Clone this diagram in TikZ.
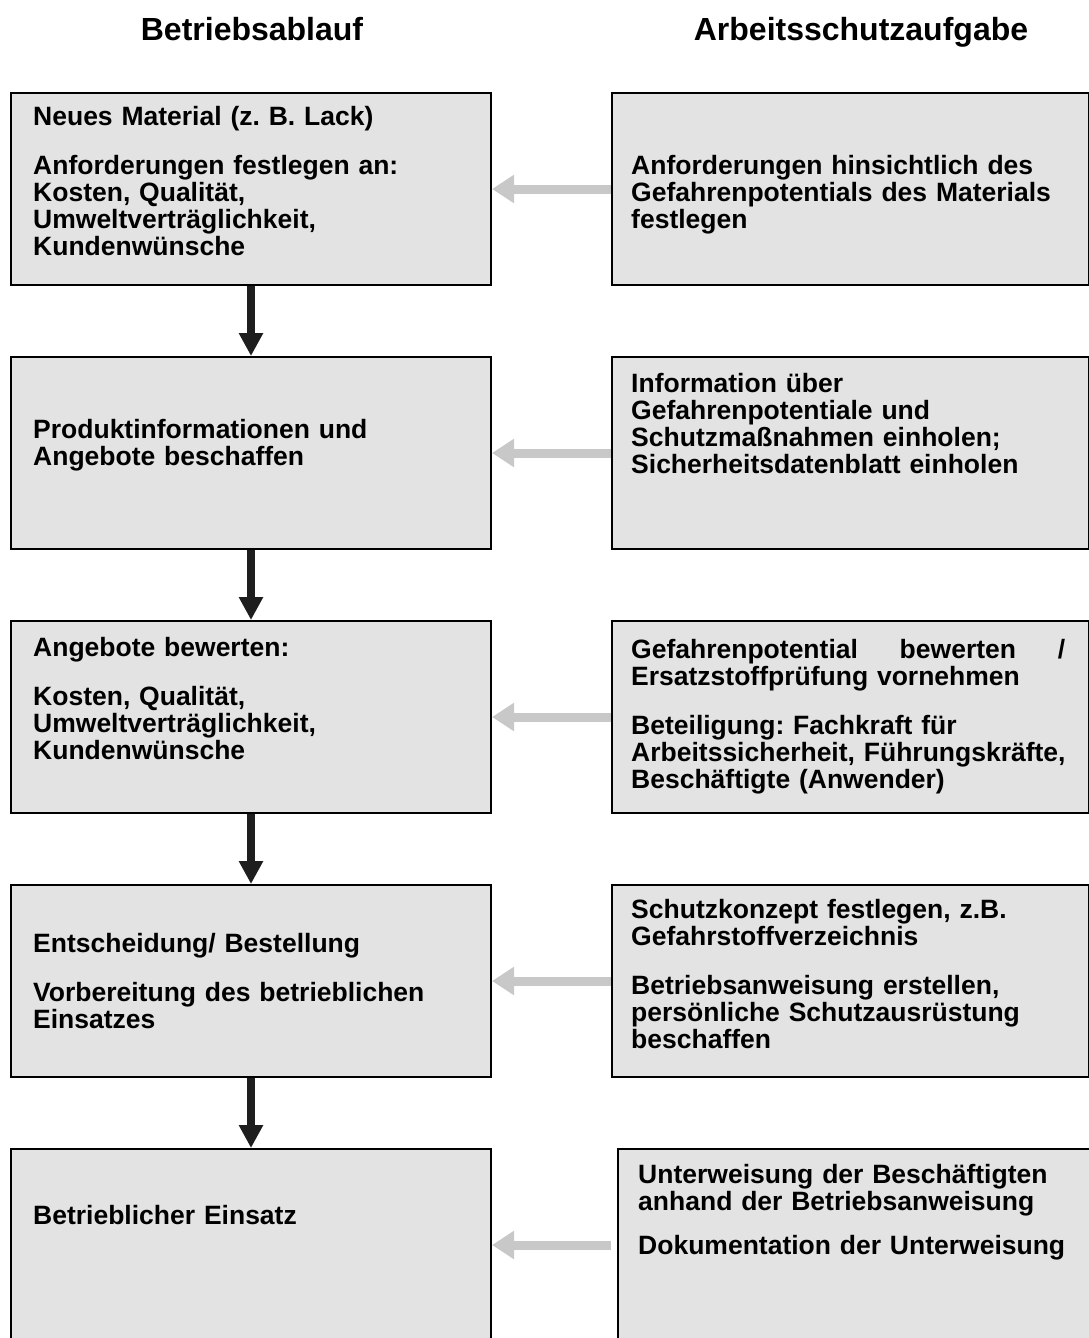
\documentclass[tikz,border=0pt]{standalone}
\usepackage{fontspec}
\setmainfont{Liberation Sans}
\usetikzlibrary{arrows.meta}
\frenchspacing

\definecolor{boxgray}{HTML}{E3E3E3}
\definecolor{linkgray}{HTML}{C8C8C8}
\definecolor{flowblack}{HTML}{1E1E1E}

\tikzset{
    stepbox/.style={draw=black, line width=2pt, fill=boxgray, rectangle,
        inner sep=0pt, anchor=north west, minimum height=192pt},
    leftbox/.style={stepbox, minimum width=480pt},
    rightbox/.style={stepbox, minimum width=477pt},
    txt/.style={font=\fontsize{26.5}{27}\selectfont\bfseries, align=left,
        text width=445pt, inner sep=0pt, anchor=base west},
    head/.style={font=\fontsize{32}{34}\selectfont\bfseries, anchor=base},
    flow/.style={line width=8pt, flowblack, -{Triangle[width=23pt,length=23pt]}},
    link/.style={line width=9pt, linkgray, -{Triangle[width=27pt,length=22pt]}}
}

\begin{document}
\begin{tikzpicture}[x=1pt, y=-1pt]
            \useasboundingbox (0,0) rectangle (1089,1338);

            % Column headings
            \node[head] (hl) at (252,41) {Betriebsablauf};
            \node[head] (hr) at (861,41) {Arbeitsschutzaufgabe};

            % Draw the boxes of the left column
            \node[leftbox] (l1) at (10,92) {};
            \node[leftbox] (l2) at (10,356) {};
            \node[leftbox] (l3) at (10,620) {};
            \node[leftbox] (l4) at (10,884) {};
            \node[leftbox] (l5) at (10,1148) {};

            % Draw the boxes of the right column
            \node[rightbox] (r1) at (611,92) {};
            \node[rightbox] (r2) at (611,356) {};
            \node[rightbox] (r3) at (611,620) {};
            \node[rightbox] (r4) at (611,884) {};
            \node[rightbox, minimum width=472pt] (r5) at (617,1148) {};

            % Texts of the left column
            \node[txt] (l1t) at ([shift={(23,33)}]l1.north west)
                {Neues Material (z. B. Lack)\\[22pt]
                 Anforderungen festlegen an:\\ Kosten, Qualität,\\
                 Umweltverträglichkeit,\\ Kundenwünsche};
            \node[txt] (l2t) at ([shift={(23,82)}]l2.north west)
                {Produktinformationen und\\ Angebote beschaffen};
            \node[txt] (l3t) at ([shift={(23,36)}]l3.north west)
                {Angebote bewerten:\\[22pt]
                 Kosten, Qualität,\\ Umweltverträglichkeit,\\ Kundenwünsche};
            \node[txt] (l4t) at ([shift={(23,68)}]l4.north west)
                {Entscheidung/ Bestellung\\[22pt]
                 Vorbereitung des betrieblichen\\ Einsatzes};
            \node[txt] (l5t) at ([shift={(23,76)}]l5.north west)
                {Betrieblicher Einsatz};

            % Texts of the right column
            \node[txt] (r1t) at ([shift={(20,82)}]r1.north west)
                {Anforderungen hinsichtlich des\\
                 Gefahrenpotentials des Materials\\ festlegen};
            \node[txt] (r2t) at ([shift={(20,36)}]r2.north west)
                {Information über\\ Gefahrenpotentiale und\\
                 Schutzmaßnahmen einholen;\\ Sicherheitsdatenblatt einholen};
            \node[txt] (r3t) at ([shift={(20,38)}]r3.north west)
                {\leavevmode\hbox to 434pt{Gefahrenpotential\hfill bewerten\hfill /}\\
                 Ersatzstoffprüfung vornehmen\\[22pt]
                 Beteiligung: Fachkraft für\\
                 Arbeitssicherheit, Führungskräfte,\\ Beschäftigte (Anwender)};
            \node[txt] (r4t) at ([shift={(20,34)}]r4.north west)
                {Schutzkonzept festlegen, z.B.\\ Gefahrstoffverzeichnis\\[22pt]
                 Betriebsanweisung erstellen,\\ persönliche Schutzausrüstung\\
                 beschaffen};
            \node[txt] (r5t) at ([shift={(21,35)}]r5.north west)
                {Unterweisung der Beschäftigten\\
                 anhand der Betriebsanweisung\\[17pt]
                 Dokumentation der Unterweisung};

            % Black arrows down the process
            \foreach \a/\b in {l1/l2, l2/l3, l3/l4, l4/l5}
                \draw[flow] (\a.south) -- (\b.north);

            % Grey arrows from the safety tasks
            \draw[link] (r1.west) -- (l1.east);
            \draw[link] (r2.west) -- (l2.east);
            \draw[link] (r3.west) -- (l3.east);
            \draw[link] (r4.west) -- (l4.east);
            \draw[link] ([xshift=-6pt]r5.west) -- (l5.east);
\end{tikzpicture}
\end{document}
